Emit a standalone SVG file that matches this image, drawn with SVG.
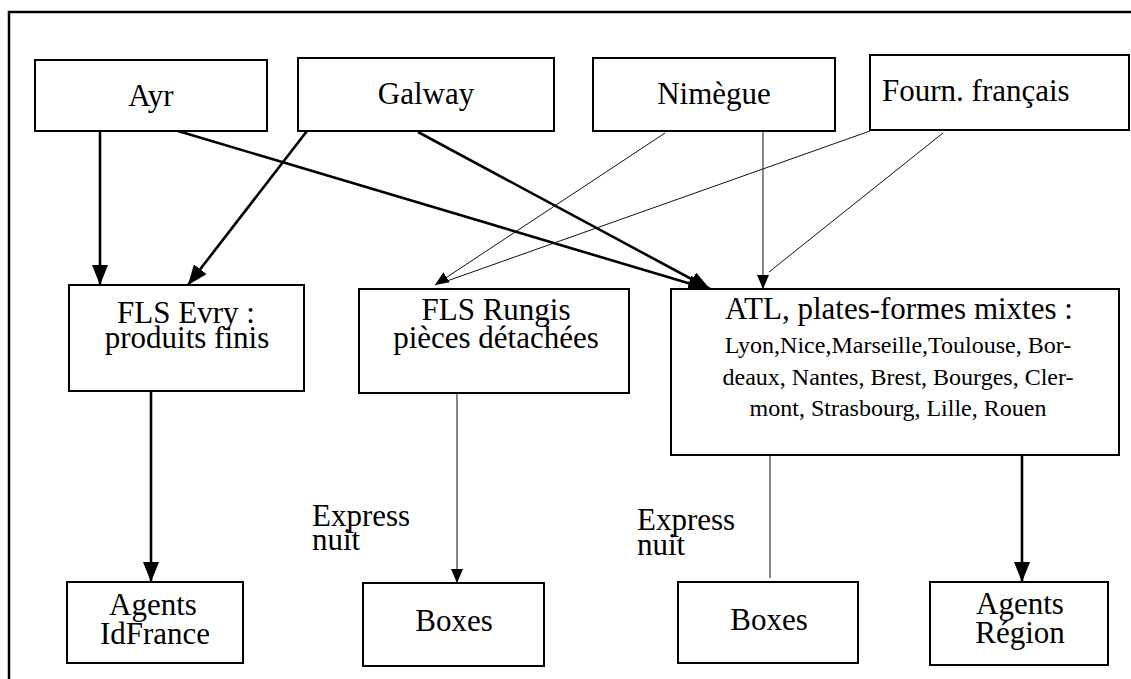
<svg xmlns="http://www.w3.org/2000/svg" width="1131" height="679" viewBox="0 0 1131 679">
  <style>
    .box { fill: #ffffff; stroke: #000000; stroke-width: 2; }
    .t { font-family: "Liberation Serif", "Times New Roman", serif; font-size: 31px; fill: #000000; }
    .c { text-anchor: middle; }
    .small { font-size: 24px; }
    .thick { stroke: #000000; stroke-width: 2.6; fill: none; }
    .thin { stroke: #111111; stroke-width: 1; fill: none; }
  </style>
  <defs>
    <marker id="bigArrow" viewBox="0 0 20 16" refX="20" refY="8" markerWidth="20" markerHeight="16" markerUnits="userSpaceOnUse" orient="auto">
      <path d="M0,0 L20,8 L0,16 z" fill="#000000"/>
    </marker>
    <marker id="smallArrow" viewBox="0 0 14 12" refX="14" refY="6" markerWidth="14" markerHeight="12" markerUnits="userSpaceOnUse" orient="auto">
      <path d="M0,0 L14,6 L0,12 z" fill="#000000"/>
    </marker>
  </defs>

  <rect width="1131" height="679" fill="#ffffff"/>

  <!-- outer frame (open on the right and bottom) -->
  <path d="M9,679 L9,12 L1131,12" fill="none" stroke="#000000" stroke-width="2.5"/>

  <!-- connectors -->
  <g id="connectors">
    <!-- Ayr -->
    <line class="thick" x1="100" y1="131" x2="100" y2="285" marker-end="url(#bigArrow)"/>
    <line class="thick" x1="178" y1="131" x2="708" y2="289" marker-end="url(#bigArrow)"/>
    <!-- Galway -->
    <line class="thick" x1="307" y1="131" x2="188" y2="285" marker-end="url(#bigArrow)"/>
    <line class="thick" x1="418" y1="132" x2="710" y2="289" marker-end="url(#bigArrow)"/>
    <!-- Nimègue -->
    <line class="thin" x1="665" y1="133" x2="435" y2="285" marker-end="url(#smallArrow)"/>
    <line class="thin" x1="763" y1="131" x2="763" y2="289" marker-end="url(#smallArrow)"/>
    <!-- Fourn. français -->
    <line class="thin" x1="870" y1="131" x2="447" y2="281"/>
    <line class="thin" x1="943" y1="133" x2="769" y2="272"/>
    <!-- FLS Evry to agents -->
    <line class="thick" x1="151" y1="391" x2="151" y2="582" marker-end="url(#bigArrow)"/>
    <!-- FLS Rungis to boxes -->
    <line class="thin" x1="457" y1="393" x2="457" y2="583" marker-end="url(#smallArrow)"/>
    <!-- ATL to boxes and agents -->
    <line class="thin" x1="770" y1="455" x2="770" y2="578"/>
    <line class="thick" x1="1022" y1="455" x2="1022" y2="582" marker-end="url(#bigArrow)"/>
  </g>

  <!-- suppliers -->
  <g id="ayr">
    <rect class="box" x="35" y="60" width="232" height="71"/>
    <text class="t c" x="151" y="106">Ayr</text>
  </g>
  <g id="galway">
    <rect class="box" x="298" y="58" width="256" height="73"/>
    <text class="t c" x="426" y="104">Galway</text>
  </g>
  <g id="nimegue">
    <rect class="box" x="593" y="58" width="242" height="73"/>
    <text class="t c" x="714" y="104">Nimègue</text>
  </g>
  <g id="fourn-francais">
    <rect class="box" x="870" y="55" width="259" height="75"/>
    <text class="t" x="882" y="101">Fourn. français</text>
  </g>

  <!-- platforms -->
  <g id="fls-evry">
    <rect class="box" x="69" y="285" width="235" height="106"/>
    <text class="t c" x="186" y="323">FLS Evry :</text>
    <text class="t c" x="187" y="348">produits finis</text>
  </g>
  <g id="fls-rungis">
    <rect class="box" x="359" y="289" width="270" height="104"/>
    <text class="t c" x="496" y="320">FLS Rungis</text>
    <text class="t c" x="496" y="348">pièces détachées</text>
  </g>
  <g id="atl">
    <rect class="box" x="671" y="289" width="448" height="166"/>
    <text class="t c" x="899" y="319">ATL, plates-formes mixtes :</text>
    <text class="t c small" x="898" y="353">Lyon,Nice,Marseille,Toulouse, Bor-</text>
    <text class="t c small" x="898" y="385">deaux, Nantes, Brest, Bourges, Cler-</text>
    <text class="t c small" x="898" y="416">mont, Strasbourg, Lille, Rouen</text>
  </g>

  <!-- transport labels -->
  <g id="label-express-1">
    <text class="t" x="312" y="526">Express</text>
    <text class="t" x="312" y="550">nuit</text>
  </g>
  <g id="label-express-2">
    <text class="t" x="637" y="530">Express</text>
    <text class="t" x="637" y="555">nuit</text>
  </g>

  <!-- destinations -->
  <g id="agents-idfrance">
    <rect class="box" x="67" y="582" width="176" height="81"/>
    <text class="t c" x="153" y="615">Agents</text>
    <text class="t c" x="155" y="644">IdFrance</text>
  </g>
  <g id="boxes-paris">
    <rect class="box" x="363" y="583" width="181" height="83"/>
    <text class="t c" x="454" y="631">Boxes</text>
  </g>
  <g id="boxes-region">
    <rect class="box" x="678" y="582" width="180" height="81"/>
    <text class="t c" x="769" y="630">Boxes</text>
  </g>
  <g id="agents-region">
    <rect class="box" x="930" y="582" width="178" height="83"/>
    <text class="t c" x="1020" y="614">Agents</text>
    <text class="t c" x="1020" y="643">Région</text>
  </g>
</svg>
